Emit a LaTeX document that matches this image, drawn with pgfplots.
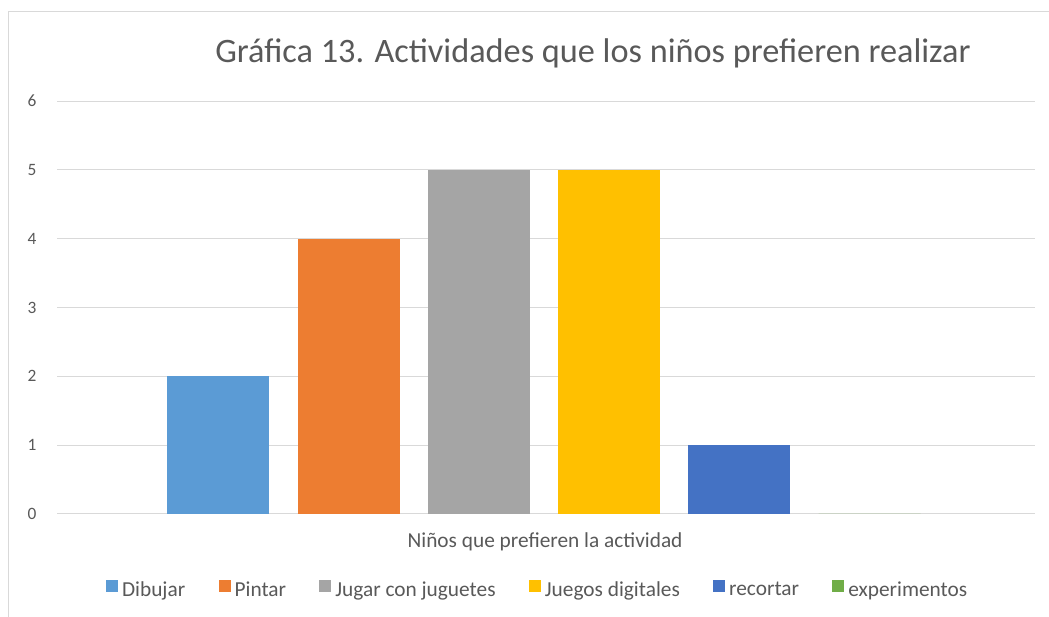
\documentclass[border=0pt]{standalone}
\usepackage{fontspec}
\setmainfont{Carlito}
\usepackage{pgfplots}
\pgfplotsset{compat=1.18}
\definecolor{cDib}{HTML}{5B9BD5}
\definecolor{cPin}{HTML}{ED7D31}
\definecolor{cJug}{HTML}{A5A5A5}
\definecolor{cDig}{HTML}{FFC000}
\definecolor{cRec}{HTML}{4472C4}
\definecolor{cExp}{HTML}{70AD47}
\definecolor{gridgray}{HTML}{D9D9D9}
\definecolor{txtgray}{HTML}{595959}

\begin{document}
\begin{tikzpicture}
\useasboundingbox (0pt,0pt) rectangle (786.75pt,462.75pt);
\draw[gridgray, line width=0.75pt] (6pt,0pt) -- (6pt,453.75pt) -- (786.75pt,453.75pt);
\begin{axis}[
    at={(42.75pt,77.25pt)}, anchor=south west,
    scale only axis,
    width=733.5pt, height=309.75pt,
    xmin=-0.24, xmax=7.27,
    ymin=0, ymax=6,
    ytick={0,1,2,3,4,5,6},
    xtick=\empty,
    ymajorgrids,
    grid style={gridgray, line width=0.75pt},
    axis line style={draw=none},
    major tick length=0pt,
    /pgf/number format/assume math mode=true,
    yticklabel style={font=\fontsize{13}{15}\selectfont, text=txtgray, anchor=east, xshift=-12pt},
    title={Gráfica 13. Actividades que los niños prefieren realizar},
    title style={font=\fontsize{25.7}{30}\selectfont, text=txtgray, at={(0.548,1)}, anchor=base, yshift=23pt},
    xlabel={Niños que prefieren la actividad},
    xlabel style={font=\fontsize{16}{19}\selectfont, text=txtgray, at={(0.499,0)}, anchor=base, yshift=-25.5pt},
    legend style={at={(0.4918,-0.184)}, anchor=center, draw=none,
      font=\fontsize{16}{19}\selectfont, text=txtgray,
      /tikz/every odd column/.append style={column sep=1pt},
      /tikz/every even column/.append style={column sep=23pt}},
    legend columns=6,
    legend image code/.code={\fill[#1] (0pt,-1.5pt) rectangle (9pt,7.5pt);},
  ]
  \addplot[ybar, bar width=0.783, bar shift=0pt, fill=cDib, draw=none] coordinates {(1,2)};
  \addplot[ybar, bar width=0.783, bar shift=0pt, fill=cPin, draw=none] coordinates {(2,4)};
  \addplot[ybar, bar width=0.783, bar shift=0pt, fill=cJug, draw=none] coordinates {(3,5)};
  \addplot[ybar, bar width=0.783, bar shift=0pt, fill=cDig, draw=none] coordinates {(4,5)};
  \addplot[ybar, bar width=0.783, bar shift=0pt, fill=cRec, draw=none] coordinates {(5,1)};
  \addplot[ybar, bar width=0.783, bar shift=0pt, fill=cExp, draw=none] coordinates {(6,0)};
  \legend{Dibujar, Pintar, Jugar con juguetes, Juegos digitales, recortar, experimentos}
\end{axis}
\end{tikzpicture}
\end{document}
